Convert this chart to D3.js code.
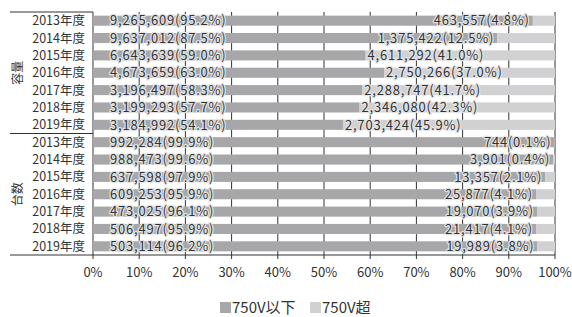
<!DOCTYPE html>
<html>
<head>
<meta charset="utf-8">
<script src="https://cdn.jsdelivr.net/npm/d3@7"></script>
<style>
  body { margin: 0; background: #fff; }
  text { font-family: "Noto Sans CJK JP", "Noto Sans", sans-serif; fill: #333; }
</style>
</head>
<body>
<svg id="chart" width="572" height="317"></svg>
<script>
var years = ["2013年度", "2014年度", "2015年度", "2016年度", "2017年度", "2018年度", "2019年度"];
var groups = ["容量", "台数"];
var seriesNames = ["750V以下", "750V超"];

// 容量
var capLow = [9265609, 9637012, 6643639, 4673659, 3196497, 3199293, 3184992];
var capLowPct = [95.2, 87.5, 59.0, 63.0, 58.3, 57.7, 54.1];
var capHigh = [463557, 1375422, 4611292, 2750266, 2288747, 2346080, 2703424];
var capHighPct = [4.8, 12.5, 41.0, 37.0, 41.7, 42.3, 45.9];

// 台数
var cntLow = [992284, 988473, 637598, 609253, 473025, 506497, 503114];
var cntLowPct = [99.9, 99.6, 97.9, 95.9, 96.1, 95.9, 96.2];
var cntHigh = [744, 3901, 13357, 25877, 19070, 21417, 19989];
var cntHighPct = [0.1, 0.4, 2.1, 4.1, 3.9, 4.1, 3.8];

var xTicks = [0, 10, 20, 30, 40, 50, 60, 70, 80, 90, 100];
var colors = ["#a7a7a9", "#d1d1d3"];

var rows = [];
years.forEach(function (y, i) {
  rows.push({ key: "c" + i, label: y, low: capLow[i], lowPct: capLowPct[i], high: capHigh[i], highPct: capHighPct[i] });
});
years.forEach(function (y, i) {
  rows.push({ key: "n" + i, label: y, low: cntLow[i], lowPct: cntLowPct[i], high: cntHigh[i], highPct: cntHighPct[i] });
});

var svg = d3.select("#chart"),
    margin = { top: 12, right: 17, bottom: 62, left: 93 },
    width = +svg.attr("width") - margin.left - margin.right,
    height = +svg.attr("height") - margin.top - margin.bottom,
    g = svg.append("g").attr("transform", "translate(" + margin.left + "," + margin.top + ")");

var x = d3.scaleLinear().domain([0, 100]).range([0, width]);
var y = d3.scaleBand().domain(rows.map(function (d) { return d.key; })).range([0, height]).paddingInner(0.42).paddingOuter(0.21);

var fmt = d3.format(",");
var fmtPct = d3.format(".1f");

// grid lines (behind bars)
g.selectAll(".grid")
  .data(xTicks)
  .enter().append("line")
    .attr("x1", function (d) { return x(d); })
    .attr("x2", function (d) { return x(d); })
    .attr("y1", 0)
    .attr("y2", height + 4)
    .attr("stroke", "#333")
    .attr("stroke-width", 1);

var bar = g.selectAll(".bar")
  .data(rows)
  .enter().append("g")
    .attr("transform", function (d) { return "translate(0," + y(d.key) + ")"; });

bar.append("rect")
    .attr("x", 0)
    .attr("width", function (d) { return x(d.lowPct); })
    .attr("height", y.bandwidth())
    .attr("fill", colors[0]);

bar.append("rect")
    .attr("x", function (d) { return x(d.lowPct); })
    .attr("width", function (d) { return x(100) - x(d.lowPct); })
    .attr("height", y.bandwidth())
    .attr("fill", colors[1]);

function valueLabel(sel) {
  sel.attr("y", y.bandwidth() / 2)
    .attr("dy", "0.36em")
    .style("font-size", "13px")
    .style("letter-spacing", "0.8px")
    .attr("stroke", "#e4e4e4")
    .attr("stroke-width", 2.5)
    .attr("paint-order", "stroke")
    .attr("stroke-linejoin", "round");
}

bar.append("text")
    .call(valueLabel)
    .attr("x", 17)
    .text(function (d) { return fmt(d.low) + "(" + fmtPct(d.lowPct) + "%)"; });

bar.append("text")
    .call(valueLabel)
    .text(function (d) { return fmt(d.high) + "(" + fmtPct(d.highPct) + "%)"; })
    .each(function (d) {
      var t = d3.select(this), w = this.getComputedTextLength(), seg = x(100) - x(d.lowPct);
      if (seg > w + 6) t.attr("x", x(d.lowPct) + 2).attr("text-anchor", "start");
      else t.attr("x", x(d.lowPct) - 3).attr("text-anchor", "end");
    });

// row labels
bar.append("text")
    .attr("x", -8)
    .attr("y", y.bandwidth() / 2)
    .attr("dy", "0.36em")
    .attr("text-anchor", "end")
    .style("font-size", "12.5px")
    .text(function (d) { return d.label; });

// frame lines
var mid = (y(rows[6].key) + y.bandwidth() + y(rows[7].key)) / 2;
[0, mid, height].forEach(function (yy, i) {
  g.append("line")
    .attr("x1", -83).attr("x2", i == 2 ? width : 0)
    .attr("y1", yy).attr("y2", yy)
    .attr("stroke", "#333");
});

// group labels
[[0, mid], [mid, height]].forEach(function (r, i) {
  g.append("text")
    .attr("transform", "translate(" + (-75) + "," + ((r[0] + r[1]) / 2) + ") rotate(-90)")
    .attr("text-anchor", "middle")
    .attr("dy", "0.36em")
    .style("font-size", "12px")
    .text(groups[i]);
});

// x axis labels
g.selectAll(".tick-label")
  .data(xTicks)
  .enter().append("text")
    .attr("x", function (d) { return x(d); })
    .attr("y", height + 22)
    .attr("text-anchor", "middle")
    .style("font-size", "13px")
    .text(function (d) { return d + "%"; });

// legend
var legend = svg.append("g").attr("transform", "translate(220,302)");
var lx = [0, 90];
seriesNames.forEach(function (s, i) {
  legend.append("rect").attr("x", lx[i]).attr("y", 0).attr("width", 11).attr("height", 11).attr("fill", colors[i]);
  legend.append("text").attr("x", lx[i] + 12).attr("y", 11).style("font-size", "15px").text(s);
});
</script>
</body>
</html>
